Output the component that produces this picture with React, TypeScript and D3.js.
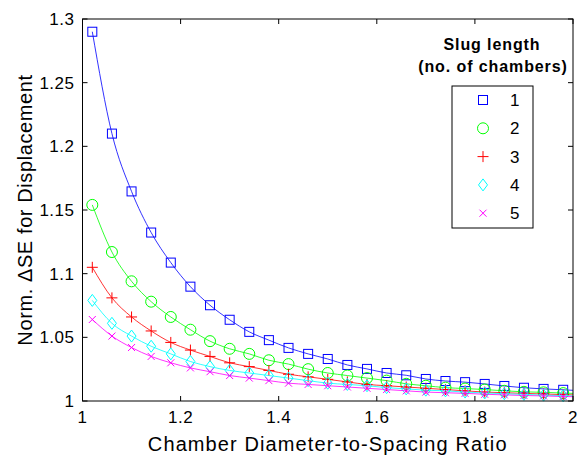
import React from "react";
import * as d3 from "d3";

// diameter-to-spacing ratio where markers are drawn
const ratio = [
  1.02, 1.06, 1.1, 1.14, 1.18, 1.22, 1.26, 1.3, 1.34, 1.38, 1.42, 1.46, 1.5,
  1.54, 1.58, 1.62, 1.66, 1.7, 1.74, 1.78, 1.82, 1.86, 1.9, 1.94, 1.98,
];

const slug1 = [
  1.29, 1.21, 1.1646, 1.1323, 1.1087, 1.0898, 1.0752, 1.0638, 1.0543, 1.0478,
  1.0417, 1.037, 1.033, 1.0283, 1.0252, 1.022, 1.0202, 1.0173, 1.0157, 1.0148,
  1.0134, 1.0118, 1.0104, 1.0095, 1.0088,
];
const slug2 = [
  1.154, 1.117, 1.094, 1.078, 1.066, 1.056, 1.047, 1.041, 1.037, 1.032, 1.029,
  1.025, 1.022, 1.02, 1.018, 1.016, 1.0135, 1.012, 1.0105, 1.0098, 1.009,
  1.008, 1.0072, 1.0068, 1.0062,
];
const slug3 = [
  1.105, 1.081, 1.066, 1.055, 1.046, 1.04, 1.035, 1.03, 1.027, 1.024, 1.021,
  1.019, 1.017, 1.015, 1.013, 1.012, 1.011, 1.01, 1.009, 1.008, 1.007, 1.0065,
  1.006, 1.0055, 1.005,
];
const slug4 = [
  1.079, 1.061, 1.051, 1.043, 1.037, 1.031, 1.027, 1.024, 1.022, 1.02, 1.018,
  1.016, 1.014, 1.013, 1.012, 1.0105, 1.0095, 1.0085, 1.008, 1.007, 1.0063,
  1.0057, 1.0052, 1.0046, 1.0042,
];
const slug5 = [
  1.064, 1.051, 1.042, 1.035, 1.03, 1.026, 1.023, 1.02, 1.018, 1.016, 1.014,
  1.013, 1.012, 1.011, 1.01, 1.009, 1.008, 1.007, 1.0065, 1.006, 1.0053,
  1.0048, 1.0043, 1.004, 1.0035,
];
// value of each fitted curve at ratio = 2
const tailValues = [1.0084, 1.006, 1.0048, 1.004, 1.0034];

const seriesNames = ["1", "2", "3", "4", "5"];
const seriesValues = [slug1, slug2, slug3, slug4, slug5];
const colors = ["#0000ff", "#00ff00", "#ff0000", "#00ffff", "#ff00ff"];
const shapes = ["square", "circle", "plus", "diamond", "cross"];

const xTicks = [1, 1.2, 1.4, 1.6, 1.8, 2];
const yTicks = [1, 1.05, 1.1, 1.15, 1.2, 1.25, 1.3];

const width = 579;
const height = 457;
const left = 82.5;
const right = 573;
const top = 19;
const bottom = 401;
const font = "Arial, 'Liberation Sans', Helvetica, sans-serif";

const Marker = ({ shape, x, y, color }: { shape: string; x: number; y: number; color: string }) => {
  const p = { fill: "none", stroke: color, strokeWidth: 1 };
  if (shape === "square") return <rect x={x - 4.5} y={y - 4.5} width={9} height={9} {...p} />;
  if (shape === "circle") return <circle cx={x} cy={y} r={5.5} {...p} />;
  if (shape === "plus")
    return <path d={`M${x - 5.5},${y}H${x + 5.5}M${x},${y - 5.5}V${y + 5.5}`} {...p} />;
  if (shape === "diamond")
    return <path d={`M${x},${y - 6}L${x + 4.5},${y}L${x},${y + 6}L${x - 4.5},${y}Z`} {...p} />;
  return <path d={`M${x - 3.5},${y - 3.5}L${x + 3.5},${y + 3.5}M${x - 3.5},${y + 3.5}L${x + 3.5},${y - 3.5}`} {...p} />;
};

export default function App() {
  const x = d3.scaleLinear().domain([1, 2]).range([left, right]);
  const y = d3.scaleLinear().domain([1, 1.3]).range([bottom, top]);

  const line = d3
    .line<[number, number]>()
    .x((d) => x(d[0]))
    .y((d) => y(d[1]))
    .curve(d3.curveMonotoneX);

  const tick = 5;
  const legendX = 452;
  const legendY = 86;
  const rowY = (i: number) => legendY + 14 + i * 28.3;

  return (
    <svg
      width={width}
      height={height}
      style={{ position: "absolute", left: 0, top: 0, background: "#fff" }}
      fontFamily={font}
    >
      <rect x={0} y={0} width={width} height={height} fill="#fff" />

      {/* curves and markers */}
      {seriesValues.map((vals, s) => {
        const pts: [number, number][] = ratio.map((r, i) => [r, vals[i]]);
        pts.push([2, tailValues[s]]);
        return (
          <g key={s}>
            <path d={line(pts) || ""} fill="none" stroke={colors[s]} strokeWidth={1} strokeOpacity={0.8} />
            {ratio.map((r, i) => (
              <Marker key={i} shape={shapes[s]} x={x(r)} y={y(vals[i])} color={colors[s]} />
            ))}
          </g>
        );
      })}

      {/* frame and ticks */}
      <rect x={left} y={top} width={right - left} height={bottom - top} fill="none" stroke="#000" strokeWidth={1} />
      {xTicks.map((t) => (
        <g key={"x" + t}>
          <line x1={x(t)} x2={x(t)} y1={bottom} y2={bottom - tick} stroke="#000" />
          <line x1={x(t)} x2={x(t)} y1={top} y2={top + tick} stroke="#000" />
          <text x={x(t)} y={bottom + 22} textAnchor="middle" fontSize={17} letterSpacing={0.5}>
            {d3.format("~g")(t)}
          </text>
        </g>
      ))}
      {yTicks.map((t) => (
        <g key={"y" + t}>
          <line x1={left} x2={left + tick} y1={y(t)} y2={y(t)} stroke="#000" />
          <line x1={right} x2={right - tick} y1={y(t)} y2={y(t)} stroke="#000" />
          <text x={left - 8} y={y(t) + 6} textAnchor="end" fontSize={17} letterSpacing={0.5}>
            {d3.format("~g")(t)}
          </text>
        </g>
      ))}

      {/* axis labels */}
      <text x={(left + right) / 2} y={451} textAnchor="middle" fontSize={20} letterSpacing={1.1}>
        Chamber Diameter-to-Spacing Ratio
      </text>
      <text
        transform={`translate(32,${(top + bottom) / 2}) rotate(-90)`}
        textAnchor="middle"
        fontSize={20}
        letterSpacing={0.6}
      >
        Norm. ΔSE for Displacement
      </text>

      {/* legend */}
      <text x={492} y={50} textAnchor="middle" fontSize={16} fontWeight="bold" letterSpacing={0.9}>
        Slug length
      </text>
      <text x={493} y={72} textAnchor="middle" fontSize={16} fontWeight="bold" letterSpacing={0.9}>
        (no. of chambers)
      </text>
      <rect x={legendX} y={legendY} width={81} height={142} fill="#fff" stroke="#000" strokeWidth={1} />
      {seriesNames.map((n, i) => (
        <g key={n}>
          <Marker shape={shapes[i]} x={483} y={rowY(i)} color={colors[i]} />
          <text x={510} y={rowY(i) + 6} fontSize={17}>
            {n}
          </text>
        </g>
      ))}
    </svg>
  );
}
